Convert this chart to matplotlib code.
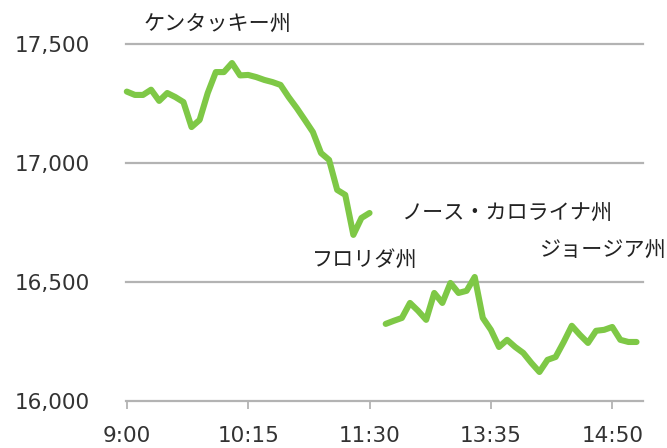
import matplotlib
matplotlib.use("Agg")
import matplotlib.pyplot as plt
import numpy as np

# Nikkei-style intraday values (index positions = 5-min categories)
morning = [17300, 17286, 17286, 17308, 17261, 17294, 17277, 17256, 17151, 17181,
           17294, 17382, 17382, 17420, 17368, 17370, 17361, 17349, 17340, 17328,
           17277, 17231, 17181, 17130, 17042, 17013, 16887, 16866, 16698, 16769,
           16790]
afternoon = [16324, 16337, 16349, 16412, 16379, 16341, 16454, 16412, 16496, 16454,
             16463, 16521, 16349, 16299, 16227, 16257, 16227, 16202, 16160, 16122,
             16173, 16185, 16248, 16316, 16278, 16244, 16295, 16299, 16311, 16257,
             16248, 16248]
afternoon_start = 32
tick_labels = ["9:00", "10:15", "11:30", "13:35", "14:50"]
tick_idx = [0, 15, 30, 45, 60]
y_ticks = [16000, 16500, 17000, 17500]
annotations = [("ケンタッキー州", 2.1, 17584), ("ノース・カロライナ州", 33.9, 16790),
               ("フロリダ州", 22.9, 16593), ("ジョージア州", 50.95, 16635)]

GREEN = "#7ec846"
GRID = "#b3b3b3"
TXT = "#333333"

fig = plt.figure(figsize=(6.67, 4.48), dpi=100)
ax = fig.add_axes([126/667, (448-401)/448, (643-126)/667, (401-44)/448])

xm = np.arange(len(morning))
xa = np.arange(afternoon_start, afternoon_start + len(afternoon))
for xs, ys in [(xm, morning), (xa, afternoon)]:
    ax.plot(xs, ys, color=GREEN, lw=4.4, solid_joinstyle="round",
            solid_capstyle="round", zorder=3, clip_on=False)

ax.set_xlim(-0.1, 63.8)
ax.set_ylim(16000, 17500)
for v in y_ticks[1:]:
    ax.axhline(v, color=GRID, lw=1.6, zorder=1, clip_on=False)

for s in ["top", "right", "left"]:
    ax.spines[s].set_visible(False)
ax.spines["bottom"].set_color(GRID)
ax.spines["bottom"].set_linewidth(1.6)

ax.set_yticks(y_ticks)
ax.set_yticklabels([f"{v:,}" for v in y_ticks])
ax.set_xticks(tick_idx)
ax.set_xticklabels(tick_labels)
ax.tick_params(axis="y", length=0, pad=26, labelsize=15.5, labelcolor=TXT)
ax.tick_params(axis="x", length=6, width=1.3, color=GRID, pad=12,
               labelsize=15.5, labelcolor=TXT)
for lab in ax.get_xticklabels() + ax.get_yticklabels():
    lab.set_family(["Verdana", "DejaVu Sans"])

for text, x, y in annotations:
    ax.text(x, y, text, ha="left", va="center", fontsize=15.2, color="#222222",
            family=["Noto Sans CJK JP", "DejaVu Sans"])

fig.savefig("out.png", dpi=100)
